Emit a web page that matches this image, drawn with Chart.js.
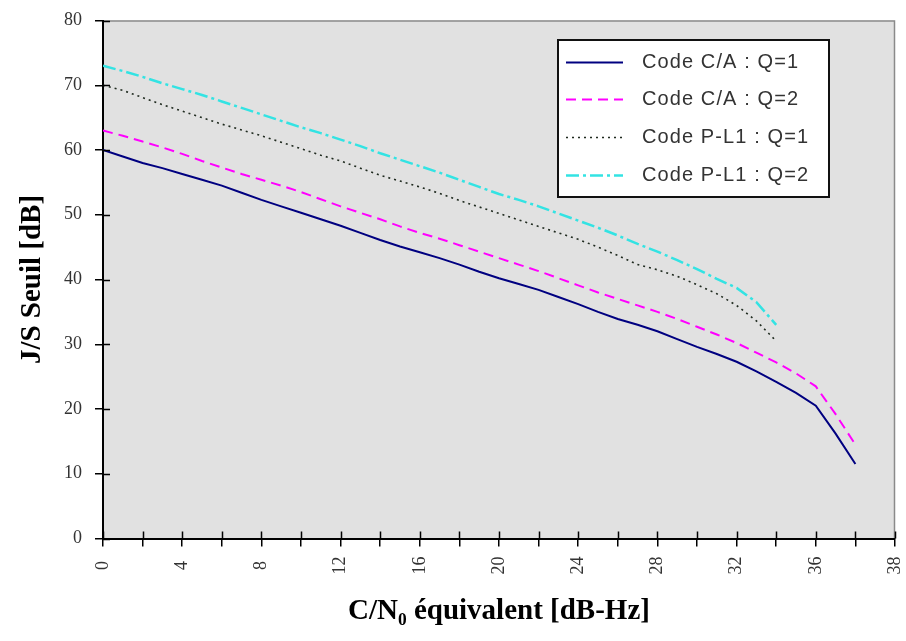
<!DOCTYPE html>
<html>
<head>
<meta charset="utf-8">
<script src="https://cdn.jsdelivr.net/npm/chart.js@4/dist/chart.umd.min.js"></script>
<style>
  html, body { margin: 0; padding: 0; background: #ffffff; }
  #wrap { position: relative; width: 906px; height: 641px; }
</style>
</head>
<body>
<div id="wrap"><canvas id="c" width="906" height="641"></canvas></div>
<script>
// ---- data ----
const xCA  = [0,1,2,3,4,5,6,7,8,9,10,11,12,13,14,15,16,17,18,19,20,21,22,23,24,25,26,27,28,29,30,31,32,33,34,35,36,37,38];
const caQ1 = [60,59,58,57.2,56.3,55.4,54.5,53.4,52.3,51.3,50.3,49.3,48.3,47.2,46.1,45.1,44.2,43.3,42.3,41.2,40.2,39.3,38.4,37.3,36.2,35,33.9,33,32,30.8,29.6,28.5,27.3,25.8,24.2,22.5,20.5,16.2,11.5];
const caQ2 = [63,62.2,61.3,60.4,59.4,58.3,57.3,56.3,55.4,54.5,53.5,52.4,51.3,50.3,49.3,48.2,47.2,46.3,45.3,44.3,43.3,42.3,41.3,40.2,39.1,38,37,36,35,33.9,32.7,31.5,30.2,28.7,27.2,25.5,23.5,19.2,14.5];
const xPL1 = [0,1,2,3,4,5,6,7,8,9,10,11,12,13,14,15,16,17,18,19,20,21,22,23,24,25,26,27,28,29,30,31,32,33,34];
const pl1Q1 = [70,69.2,68.1,67,66,65,64,63.1,62.2,61.2,60.2,59.2,58.3,57.2,56.1,55.2,54.3,53.3,52.2,51.2,50.2,49.2,48.2,47.2,46.2,45,43.7,42.3,41.5,40.5,39.2,37.8,36,33.6,30.5];
const pl1Q2 = [73,72.2,71.3,70.3,69.4,68.5,67.5,66.5,65.5,64.5,63.5,62.6,61.6,60.6,59.5,58.5,57.5,56.5,55.4,54.3,53.2,52.3,51.3,50.2,49.1,48,46.8,45.5,44.3,43,41.6,40.1,38.7,36.5,33];

const seriesNames = ['Code C/A : Q=1', 'Code C/A : Q=2', 'Code P-L1 : Q=1', 'Code P-L1 : Q=2'];
const xTickValues = [0,4,8,12,16,20,24,28,32,36,40];
const xTickTexts  = ['0','4','8','12','16','20','24','28','32','36','38'];
const yTickValues = [0,10,20,30,40,50,60,70,80];
const xTitle = 'C/N\u2080 \u00e9quivalent [dB-Hz]';
const yTitle = 'J/S Seuil [dB]';

// ---- styles ----
const styles = [
  { color: '#000080', width: 2,   dash: [] },
  { color: '#ff00ff', width: 2,   dash: [10, 6] },
  { color: '#1f2a1f', width: 1.6, dash: [2, 4] },
  { color: '#33e3e3', width: 2.5, dash: [13, 4, 3, 4] }
];

function pts(xs, ys) { return xs.map((x, i) => ({ x: x, y: ys[i] })); }

const allSeries = [pts(xCA, caQ1), pts(xCA, caQ2), pts(xPL1, pl1Q1), pts(xPL1, pl1Q2)];

const datasets = allSeries.map((d, i) => ({
  label: seriesNames[i],
  data: d,
  borderColor: styles[i].color,
  borderWidth: styles[i].width,
  borderDash: styles[i].dash,
  pointRadius: 0,
  fill: false,
  tension: 0
}));

const plotBg = {
  id: 'plotBg',
  beforeDraw(chart) {
    const { ctx, chartArea: a } = chart;
    ctx.save();
    ctx.fillStyle = '#e1e1e1';
    ctx.fillRect(a.left, a.top, a.right - a.left, a.bottom - a.top);
    ctx.strokeStyle = '#8a8a8a';
    ctx.lineWidth = 1.5;
    ctx.beginPath();
    ctx.moveTo(a.left, a.top + 0.5);
    ctx.lineTo(a.right - 0.5, a.top + 0.5);
    ctx.lineTo(a.right - 0.5, a.bottom);
    ctx.stroke();
    ctx.restore();
  },
  afterDatasetsDraw(chart) {
    // inner half of the crossing tick marks
    const { ctx, chartArea: a, scales } = chart;
    ctx.save();
    ctx.strokeStyle = '#000';
    ctx.lineWidth = 1.5;
    ctx.beginPath();
    scales.x.ticks.forEach(t => {
      const px = Math.round(scales.x.getPixelForValue(t.value)) + 0.5;
      ctx.moveTo(px, a.bottom);
      ctx.lineTo(px, a.bottom - 7);
    });
    scales.y.ticks.forEach(t => {
      const py = Math.round(scales.y.getPixelForValue(t.value)) + 0.5;
      ctx.moveTo(a.left, py);
      ctx.lineTo(a.left + 7, py);
    });
    ctx.stroke();
    ctx.restore();
  },
  afterDraw(chart) {
    // legend box inside the plot area
    const { ctx } = chart;
    const bx = 558, by = 40, bw = 271, bh = 157;
    ctx.save();
    ctx.fillStyle = '#ffffff';
    ctx.fillRect(bx, by, bw, bh);
    ctx.strokeStyle = '#111';
    ctx.lineWidth = 2;
    ctx.strokeRect(bx, by, bw, bh);
    const rowY = [62, 99, 137, 175];
    chart.data.datasets.forEach((ds, i) => {
      const y = rowY[i] + 0.5;
      ctx.strokeStyle = ds.borderColor;
      ctx.lineWidth = ds.borderWidth;
      ctx.setLineDash(ds.borderDash);
      ctx.beginPath();
      ctx.moveTo(566, y);
      ctx.lineTo(623, y);
      ctx.stroke();
      ctx.setLineDash([]);
      ctx.fillStyle = '#333';
      ctx.font = '20px "Liberation Sans", Arial, sans-serif';
      if ('letterSpacing' in ctx) ctx.letterSpacing = '1.1px';
      ctx.textBaseline = 'middle';
      ctx.textAlign = 'left';
      ctx.fillText(ds.label, 642, y);
    });
    ctx.restore();
  }
};

new Chart(document.getElementById('c'), {
  type: 'line',
  data: { datasets: datasets },
  options: {
    responsive: false,
    animation: false,
    layout: { padding: { left: 0, right: 11, top: 20.5, bottom: 0 } },
    plugins: { legend: { display: false }, tooltip: { enabled: false } },
    scales: {
      x: {
        type: 'linear',
        min: 0, max: 40,
        afterFit(scale) { scale.height = 102.5; scale.paddingLeft = 0; scale.paddingRight = 0; },
        afterBuildTicks(scale) {
          const t = [];
          for (let v = 0; v <= 40; v += 2) t.push({ value: v });
          scale.ticks = t;
        },
        ticks: {
          autoSkip: false,
          minRotation: 90, maxRotation: 90,
          padding: 10,
          color: '#333',
          font: { family: '"Liberation Serif", "Times New Roman", serif', size: 18 },
          callback(v) {
            const k = xTickValues.indexOf(v);
            if (k < 0) return '';
            const s = xTickTexts[k];
            return s.length === 1 ? s + '\u2005' : s;
          }
        },
        grid: { drawOnChartArea: false, drawTicks: true, tickLength: 8, color: '#000', lineWidth: 1.5 },
        border: { display: true, color: '#000', width: 2 },
        title: {
          display: true, text: xTitle, color: '#000',
          font: { family: '"Liberation Serif", "Times New Roman", serif', size: 29, weight: 'bold', lineHeight: 1 },
          padding: { top: 0, bottom: 15 }
        }
      },
      y: {
        type: 'linear',
        min: 0, max: 80,
        afterFit(scale) { scale.width = 103; scale.paddingTop = 0; scale.paddingBottom = 0; },
        afterBuildTicks(scale) { scale.ticks = yTickValues.map(v => ({ value: v })); },
        ticks: {
          padding: 13,
          color: '#333',
          font: { family: '"Liberation Serif", "Times New Roman", serif', size: 18 }
        },
        grid: { drawOnChartArea: false, drawTicks: true, tickLength: 8, color: '#000', lineWidth: 1.5 },
        border: { display: true, color: '#000', width: 2 },
        title: {
          display: true, text: yTitle, color: '#000',
          font: { family: '"Liberation Serif", "Times New Roman", serif', size: 29, weight: 'bold', lineHeight: 1 },
          padding: { top: 18, bottom: 0 }
        }
      }
    }
  },
  plugins: [plotBg]
});
</script>
</body>
</html>
